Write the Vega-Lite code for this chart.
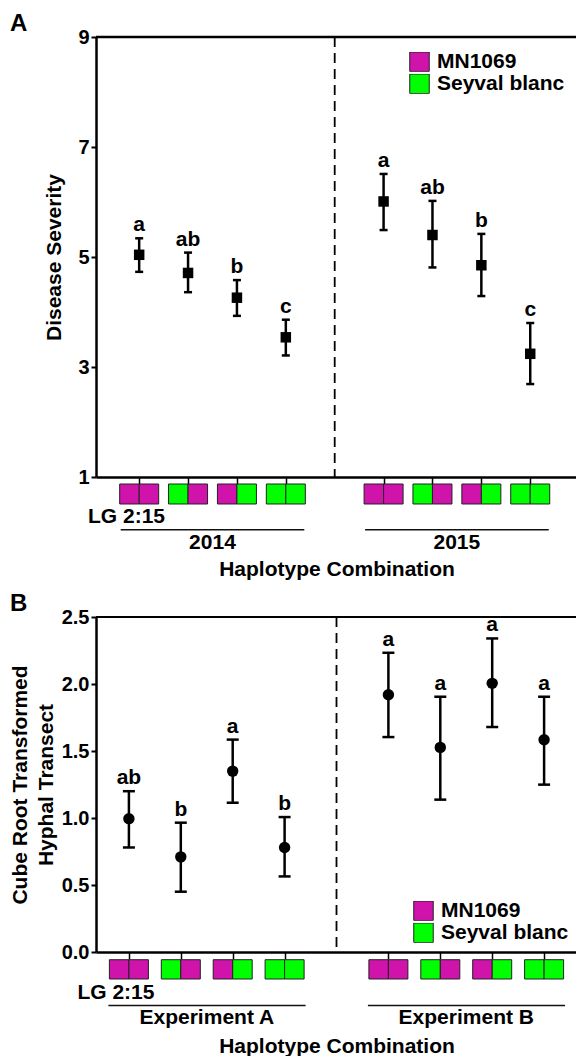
{
  "$schema": "https://vega.github.io/schema/vega-lite/v6.json",
  "padding": {"left": 9, "top": 12, "right": 0, "bottom": 0},
  "autosize": {"type": "pad"},
  "config": {
    "font": "Liberation Sans",
    "view": {"stroke": null},
    "axis": {"grid": false, "labelFontWeight": "bold", "titleFontWeight": "bold", "labelFontSize": 20, "titleFontSize": 21, "labelColor": "#000", "titleColor": "#000", "domainColor": "#000", "tickColor": "#000"},
    "legend": {"symbolType": "square", "symbolSize": 380, "symbolStrokeColor": "#222", "symbolStrokeWidth": 1, "symbolOpacity": 1, "labelFontSize": 21, "labelFontWeight": "bold", "labelColor": "#000", "labelOffset": 7, "rowPadding": 0, "clipHeight": 19.5, "padding": 0, "orient": "none"},
    "title": {"fontSize": 24, "fontWeight": "bold", "color": "#000", "anchor": "start", "frame": "group"},
    "text": {"fontWeight": "bold", "fontSize": 21, "color": "#000"}
  },
  "datasets": {
    "sevA": [
      {"combo": "2014-MM", "mean": 5.04, "lo": 4.73, "hi": 5.34, "grp": "a"},
      {"combo": "2014-SM", "mean": 4.71, "lo": 4.36, "hi": 5.08, "grp": "ab"},
      {"combo": "2014-MS", "mean": 4.26, "lo": 3.93, "hi": 4.58, "grp": "b"},
      {"combo": "2014-SS", "mean": 3.54, "lo": 3.21, "hi": 3.86, "grp": "c"},
      {"combo": "2015-MM", "mean": 6.01, "lo": 5.49, "hi": 6.51, "grp": "a"},
      {"combo": "2015-SM", "mean": 5.40, "lo": 4.81, "hi": 6.02, "grp": "ab"},
      {"combo": "2015-MS", "mean": 4.85, "lo": 4.29, "hi": 5.42, "grp": "b"},
      {"combo": "2015-SS", "mean": 3.24, "lo": 2.69, "hi": 3.80, "grp": "c"}
    ],
    "hypB": [
      {"combo": "A-MM", "mean": 0.995, "lo": 0.78, "hi": 1.20, "grp": "ab"},
      {"combo": "A-SM", "mean": 0.71, "lo": 0.45, "hi": 0.965, "grp": "b"},
      {"combo": "A-MS", "mean": 1.35, "lo": 1.114, "hi": 1.585, "grp": "a"},
      {"combo": "A-SS", "mean": 0.78, "lo": 0.564, "hi": 1.007, "grp": "b"},
      {"combo": "B-MM", "mean": 1.92, "lo": 1.604, "hi": 2.233, "grp": "a"},
      {"combo": "B-SM", "mean": 1.527, "lo": 1.137, "hi": 1.905, "grp": "a"},
      {"combo": "B-MS", "mean": 2.005, "lo": 1.679, "hi": 2.34, "grp": "a"},
      {"combo": "B-SS", "mean": 1.584, "lo": 1.249, "hi": 1.905, "grp": "a"}
    ],
    "boxA": [
      {"combo": "2014-MM", "left": "MN1069", "right": "MN1069"},
      {"combo": "2014-SM", "left": "Seyval blanc", "right": "MN1069"},
      {"combo": "2014-MS", "left": "MN1069", "right": "Seyval blanc"},
      {"combo": "2014-SS", "left": "Seyval blanc", "right": "Seyval blanc"},
      {"combo": "2015-MM", "left": "MN1069", "right": "MN1069"},
      {"combo": "2015-SM", "left": "Seyval blanc", "right": "MN1069"},
      {"combo": "2015-MS", "left": "MN1069", "right": "Seyval blanc"},
      {"combo": "2015-SS", "left": "Seyval blanc", "right": "Seyval blanc"}
    ],
    "boxB": [
      {"combo": "A-MM", "left": "MN1069", "right": "MN1069"},
      {"combo": "A-SM", "left": "Seyval blanc", "right": "MN1069"},
      {"combo": "A-MS", "left": "MN1069", "right": "Seyval blanc"},
      {"combo": "A-SS", "left": "Seyval blanc", "right": "Seyval blanc"},
      {"combo": "B-MM", "left": "MN1069", "right": "MN1069"},
      {"combo": "B-SM", "left": "Seyval blanc", "right": "MN1069"},
      {"combo": "B-MS", "left": "MN1069", "right": "Seyval blanc"},
      {"combo": "B-SS", "left": "Seyval blanc", "right": "Seyval blanc"}
    ],
    "groupA": [
      {"group": "2014", "first": "2014-MM", "second": "2014-SM", "last": "2014-SS"},
      {"group": "2015", "first": "2015-MM", "second": "2015-SM", "last": "2015-SS"}
    ],
    "groupB": [
      {"group": "Experiment A", "first": "A-MM", "second": "A-SM", "last": "A-SS"},
      {"group": "Experiment B", "first": "B-MM", "second": "B-SM", "last": "B-SS"}
    ]
  },
  "bounds": "flush",
  "spacing": 140,
  "resolve": {"scale": {"x": "independent", "y": "independent", "color": "independent"}, "legend": {"color": "independent"}},
  "vconcat": [
    {
      "width": 481,
      "height": 440,
      "title": {"text": "A", "dx": -86, "dy": 11, "offset": 2},
      "data": {"name": "sevA"},
      "layer": [
        {
          "data": {"values": [{"note": "divider"}]},
          "mark": {"type": "rule", "strokeDash": [10, 6], "strokeWidth": 1.8, "color": "#000"},
          "encoding": {
            "x": {"datum": "gap", "type": "nominal", "scale": {"type": "point", "domain": ["2014-MM", "2014-SM", "2014-MS", "2014-SS", "gap", "2015-MM", "2015-SM", "2015-MS", "2015-SS"], "padding": 0.92, "align": 0.48}, "axis": {"values": ["2014-MM", "2014-SM", "2014-MS", "2014-SS", "2015-MM", "2015-SM", "2015-MS", "2015-SS"], "labels": false, "title": "Haplotype Combination", "titleBaseline": "alphabetic", "titlePadding": 90.7, "tickSize": 7, "tickWidth": 1.5, "domainWidth": 2.5}}
          }
        },
        {
          "data": {"values": [{"note": "top border"}]},
          "mark": {"type": "rule", "strokeWidth": 2.5, "color": "#000"},
          "encoding": {
            "y": {"datum": 9, "type": "quantitative", "scale": {"domain": [1, 9], "nice": false, "zero": false}, "axis": {"title": "Disease Severity", "values": [1, 3, 5, 7, 9], "tickSize": 5, "tickWidth": 2, "domainWidth": 2.5, "labelPadding": 2, "titlePadding": 13}}
          }
        },
        {
          "mark": {"type": "rule", "strokeWidth": 2.5, "color": "#000"},
          "encoding": {
            "x": {"field": "combo", "type": "nominal"},
            "y": {"field": "lo", "type": "quantitative"},
            "y2": {"field": "hi"}
          }
        },
        {
          "mark": {"type": "tick", "size": 8, "thickness": 2.5, "color": "#000", "opacity": 1},
          "encoding": {"x": {"field": "combo", "type": "nominal"}, "y": {"field": "lo", "type": "quantitative"}}
        },
        {
          "mark": {"type": "tick", "size": 8, "thickness": 2.5, "color": "#000", "opacity": 1},
          "encoding": {"x": {"field": "combo", "type": "nominal"}, "y": {"field": "hi", "type": "quantitative"}}
        },
        {
          "mark": {"type": "square", "size": 110, "color": "#000", "opacity": 1, "filled": true},
          "encoding": {"x": {"field": "combo", "type": "nominal"}, "y": {"field": "mean", "type": "quantitative"}}
        },
        {
          "mark": {"type": "text", "baseline": "alphabetic", "dy": -7},
          "encoding": {"x": {"field": "combo", "type": "nominal"}, "y": {"field": "hi", "type": "quantitative"}, "text": {"field": "grp"}}
        },
        {
          "data": {"name": "boxA"},
          "mark": {"type": "rect", "width": 19.5, "xOffset": -9.75, "stroke": "#222", "strokeWidth": 1},
          "encoding": {
            "x": {"field": "combo", "type": "nominal"},
            "y": {"datum": 0.8727, "type": "quantitative"},
            "y2": {"datum": 0.5091},
            "color": {"field": "left", "type": "nominal", "scale": {"domain": ["MN1069", "Seyval blanc"], "range": ["#cf13ab", "#00ff00"]}, "legend": {"title": null, "legendX": 313, "legendY": 15}}
          }
        },
        {
          "data": {"name": "boxA"},
          "mark": {"type": "rect", "width": 19.5, "xOffset": 9.75, "stroke": "#222", "strokeWidth": 1},
          "encoding": {
            "x": {"field": "combo", "type": "nominal"},
            "y": {"datum": 0.8727, "type": "quantitative"},
            "y2": {"datum": 0.5091},
            "color": {"field": "right", "type": "nominal", "legend": null}
          }
        },
        {
          "data": {"name": "groupA"},
          "mark": {"type": "rule", "strokeWidth": 1.5, "color": "#111", "xOffset": -18.5, "x2Offset": 18.5},
          "encoding": {"x": {"field": "first", "type": "nominal"}, "x2": {"field": "last"}, "y": {"datum": 0.0418, "type": "quantitative"}}
        },
        {
          "data": {"name": "groupA"},
          "mark": {"type": "text", "baseline": "alphabetic", "dx": 24.4},
          "encoding": {"x": {"field": "second", "type": "nominal"}, "y": {"datum": -0.3145, "type": "quantitative"}, "text": {"field": "group"}}
        },
        {
          "data": {"values": [{"label": "LG 2:15", "combo": "2014-MM"}]},
          "mark": {"type": "text", "baseline": "alphabetic", "dx": -12.7},
          "encoding": {"x": {"field": "combo", "type": "nominal"}, "y": {"datum": 0.169, "type": "quantitative"}, "text": {"field": "label"}}
        }
      ]
    },
    {
      "width": 481,
      "height": 335,
      "title": {"text": "B", "dx": -86, "dy": 11, "offset": 2},
      "data": {"name": "hypB"},
      "layer": [
        {
          "data": {"values": [{"note": "divider"}]},
          "mark": {"type": "rule", "strokeDash": [10, 6], "strokeWidth": 1.8, "color": "#000"},
          "encoding": {
            "x": {"datum": "gap", "type": "nominal", "scale": {"type": "point", "domain": ["A-MM", "A-SM", "A-MS", "A-SS", "gap", "B-MM", "B-SM", "B-MS", "B-SS"], "padding": 0.634, "align": 0.5}, "axis": {"values": ["A-MM", "A-SM", "A-MS", "A-SS", "B-MM", "B-SM", "B-MS", "B-SS"], "labels": false, "title": "Haplotype Combination", "titleBaseline": "alphabetic", "titlePadding": 92.7, "tickSize": 7, "tickWidth": 1.5, "domainWidth": 2.5}}
          }
        },
        {
          "data": {"values": [{"note": "top border"}]},
          "mark": {"type": "rule", "strokeWidth": 2, "color": "#000"},
          "encoding": {
            "y": {"datum": 2.5, "type": "quantitative", "scale": {"domain": [0, 2.5], "nice": false}, "axis": {"title": ["Cube Root Transformed", "Hyphal Transect"], "titleLineHeight": 26, "values": [0, 0.5, 1, 1.5, 2, 2.5], "format": ".1f", "tickSize": 5, "tickWidth": 2, "domainWidth": 2.5, "labelPadding": 2, "titlePadding": 5}}
          }
        },
        {
          "mark": {"type": "rule", "strokeWidth": 2.5, "color": "#000"},
          "encoding": {
            "x": {"field": "combo", "type": "nominal"},
            "y": {"field": "lo", "type": "quantitative"},
            "y2": {"field": "hi"}
          }
        },
        {
          "mark": {"type": "tick", "size": 12, "thickness": 2.5, "color": "#000", "opacity": 1},
          "encoding": {"x": {"field": "combo", "type": "nominal"}, "y": {"field": "lo", "type": "quantitative"}}
        },
        {
          "mark": {"type": "tick", "size": 12, "thickness": 2.5, "color": "#000", "opacity": 1},
          "encoding": {"x": {"field": "combo", "type": "nominal"}, "y": {"field": "hi", "type": "quantitative"}}
        },
        {
          "mark": {"type": "circle", "size": 130, "color": "#000", "opacity": 1},
          "encoding": {"x": {"field": "combo", "type": "nominal"}, "y": {"field": "mean", "type": "quantitative"}}
        },
        {
          "mark": {"type": "text", "baseline": "alphabetic", "dy": -7},
          "encoding": {"x": {"field": "combo", "type": "nominal"}, "y": {"field": "hi", "type": "quantitative"}, "text": {"field": "grp"}}
        },
        {
          "data": {"name": "boxB"},
          "mark": {"type": "rect", "width": 19.5, "xOffset": -9.75, "stroke": "#222", "strokeWidth": 1},
          "encoding": {
            "x": {"field": "combo", "type": "nominal"},
            "y": {"datum": -0.0575, "type": "quantitative"},
            "y2": {"datum": -0.2015},
            "color": {"field": "left", "type": "nominal", "scale": {"domain": ["MN1069", "Seyval blanc"], "range": ["#cf13ab", "#00ff00"]}, "legend": {"title": null, "legendX": 317, "legendY": 284}}
          }
        },
        {
          "data": {"name": "boxB"},
          "mark": {"type": "rect", "width": 19.5, "xOffset": 9.75, "stroke": "#222", "strokeWidth": 1},
          "encoding": {
            "x": {"field": "combo", "type": "nominal"},
            "y": {"datum": -0.0575, "type": "quantitative"},
            "y2": {"datum": -0.2015},
            "color": {"field": "right", "type": "nominal", "legend": null}
          }
        },
        {
          "data": {"name": "groupB"},
          "mark": {"type": "rule", "strokeWidth": 1.5, "color": "#111", "xOffset": -20.5, "x2Offset": 21},
          "encoding": {"x": {"field": "first", "type": "nominal"}, "x2": {"field": "last"}, "y": {"datum": -0.3985, "type": "quantitative"}}
        },
        {
          "data": {"name": "groupB"},
          "mark": {"type": "text", "baseline": "alphabetic", "dx": 26},
          "encoding": {"x": {"field": "second", "type": "nominal"}, "y": {"datum": -0.5403, "type": "quantitative"}, "text": {"field": "group"}}
        },
        {
          "data": {"values": [{"label": "LG 2:15", "combo": "A-MM"}]},
          "mark": {"type": "text", "baseline": "alphabetic", "dx": -13},
          "encoding": {"x": {"field": "combo", "type": "nominal"}, "y": {"datum": -0.3485, "type": "quantitative"}, "text": {"field": "label"}}
        }
      ]
    }
  ]
}
